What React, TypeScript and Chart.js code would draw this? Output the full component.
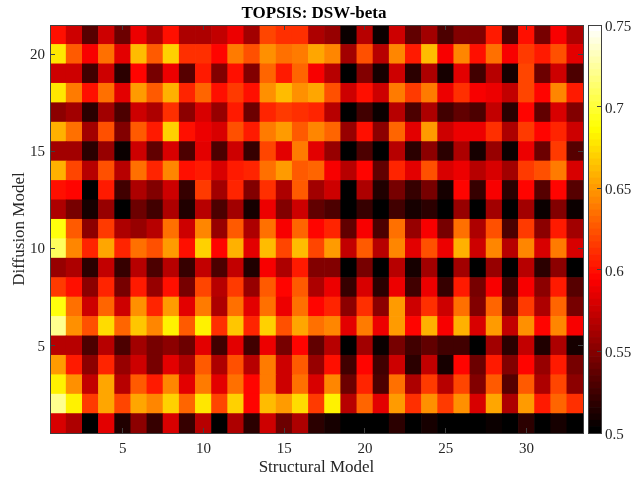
import React, { useEffect, useRef } from "react";
import { Chart, registerables } from "chart.js";

Chart.register(...registerables);

const row21 = [.600,.575,.533,.577,.540,.587,.566,.600,.566,.566,.574,.588,.559,.620,.612,.610,.566,.558,.507,.570,.507,.575,.537,.560,.530,.548,.548,.605,.530,.598,.545,.592,.566];
const row20 = [.677,.627,.590,.635,.583,.664,.625,.668,.612,.612,.594,.638,.622,.647,.633,.640,.656,.642,.560,.622,.570,.644,.605,.664,.590,.642,.600,.636,.590,.616,.605,.622,.583];
const row19 = [.575,.575,.526,.575,.518,.594,.546,.588,.533,.603,.548,.601,.548,.631,.605,.629,.592,.570,.502,.548,.509,.577,.518,.566,.509,.583,.526,.570,.509,.620,.540,.575,.531];
const row18 = [.677,.640,.601,.636,.583,.649,.625,.658,.607,.631,.601,.616,.600,.647,.664,.645,.655,.623,.575,.598,.575,.638,.616,.640,.586,.612,.592,.586,.572,.620,.594,.642,.605];
const row17 = [.552,.559,.518,.559,.530,.575,.563,.610,.552,.581,.555,.603,.540,.607,.614,.610,.607,.570,.502,.526,.504,.570,.531,.563,.524,.539,.530,.574,.516,.594,.537,.581,.548];
const row16 = [.658,.636,.561,.622,.550,.625,.605,.668,.598,.586,.579,.623,.605,.640,.651,.627,.642,.629,.555,.600,.552,.631,.583,.649,.575,.586,.586,.610,.563,.616,.594,.608,.577];
const row15 = [.559,.559,.518,.555,.507,.575,.537,.579,.528,.585,.530,.575,.522,.618,.585,.638,.585,.555,.501,.530,.501,.568,.518,.552,.518,.564,.509,.555,.506,.586,.540,.616,.533];
const row14 = [.658,.620,.570,.623,.570,.633,.607,.642,.598,.603,.579,.603,.609,.635,.649,.625,.631,.590,.568,.594,.537,.608,.583,.622,.579,.588,.570,.579,.559,.616,.622,.640,.579];
const row13 = [.601,.594,.501,.605,.526,.566,.548,.575,.522,.616,.561,.607,.548,.612,.564,.627,.559,.577,.501,.563,.515,.546,.520,.545,.509,.594,.522,.592,.518,.594,.533,.594,.533];
const row12 = [.563,.546,.509,.555,.501,.540,.524,.563,.515,.570,.528,.561,.511,.586,.548,.577,.537,.530,.501,.522,.501,.526,.509,.518,.503,.555,.501,.559,.501,.559,.506,.548,.504];
const row11 = [.688,.625,.552,.614,.563,.555,.570,.635,.575,.642,.555,.627,.563,.636,.590,.631,.594,.608,.539,.590,.531,.633,.555,.590,.546,.633,.563,.622,.530,.616,.552,.605,.559];
const row10 = [.710,.644,.607,.656,.608,.635,.623,.649,.601,.668,.594,.658,.583,.662,.620,.664,.618,.649,.572,.627,.570,.644,.583,.622,.586,.658,.575,.642,.570,.644,.579,.640,.579];
const row9 = [.555,.563,.518,.572,.520,.570,.530,.570,.522,.574,.530,.572,.515,.592,.563,.605,.548,.548,.501,.546,.501,.570,.511,.559,.501,.559,.501,.555,.501,.570,.518,.552,.502];
const row8 = [.616,.600,.552,.608,.545,.605,.555,.600,.546,.618,.568,.614,.555,.625,.594,.627,.566,.586,.522,.579,.516,.586,.526,.588,.522,.605,.546,.590,.526,.590,.552,.605,.533];
const row7 = [.688,.635,.575,.631,.577,.645,.607,.651,.583,.640,.564,.636,.585,.633,.586,.635,.594,.608,.552,.612,.554,.652,.577,.610,.575,.635,.548,.631,.542,.616,.566,.629,.545];
const row6 = [.720,.647,.623,.674,.631,.666,.644,.683,.627,.683,.612,.666,.608,.671,.622,.655,.633,.642,.585,.640,.586,.652,.594,.658,.592,.660,.581,.651,.574,.647,.594,.644,.590];
const row5 = [.568,.568,.528,.568,.530,.561,.545,.554,.542,.583,.526,.583,.526,.588,.546,.594,.537,.570,.501,.561,.505,.546,.526,.537,.526,.526,.501,.561,.518,.574,.515,.566,.509];
const row4 = [.651,.605,.552,.607,.555,.575,.546,.583,.566,.625,.566,.622,.570,.638,.577,.625,.555,.601,.524,.594,.526,.575,.518,.574,.511,.594,.540,.605,.548,.594,.555,.605,.545];
const row3 = [.683,.647,.574,.656,.568,.627,.605,.642,.583,.640,.583,.635,.594,.638,.577,.635,.579,.642,.540,.608,.531,.636,.563,.616,.568,.620,.548,.625,.533,.625,.566,.620,.554];
const row2 = [.720,.680,.616,.656,.618,.655,.642,.671,.631,.677,.620,.669,.594,.662,.651,.675,.616,.680,.570,.631,.583,.651,.612,.647,.614,.647,.579,.655,.566,.652,.605,.631,.612];
const row1 = [.579,.563,.501,.583,.513,.552,.522,.579,.522,.570,.501,.564,.518,.577,.542,.566,.518,.511,.501,.501,.501,.518,.501,.511,.501,.501,.501,.504,.501,.518,.501,.511,.501];

const rows = [row1,row2,row3,row4,row5,row6,row7,row8,row9,row10,row11,row12,row13,row14,row15,row16,row17,row18,row19,row20,row21];

const xTicks = [5, 10, 15, 20, 25, 30];
const yTicks = [5, 10, 15, 20];
const barTicks = [0.5, 0.55, 0.6, 0.65, 0.7, 0.75];

const title = "TOPSIS: DSW-beta";
const xLabel = "Structural Model";
const yLabel = "Diffusion Model";

const V_MIN = 0.5;
const V_MAX = 0.75;
const LEVELS = 64;
const FONT = "'Liberation Serif', 'Times New Roman', serif";
const TEXT = "#262626";
const AXIS = "#404040";

function hot(i: number) {
  const t = i / (LEVELS - 1);
  const c = (x: number) => Math.round(255 * Math.max(0, Math.min(1, x)));
  return `rgb(${c(t / 0.375)},${c((t - 0.375) / 0.375)},${c((t - 0.75) / 0.25)})`;
}
function colorOf(v: number) {
  const i = Math.floor(((v - V_MIN) / (V_MAX - V_MIN)) * LEVELS);
  return hot(Math.max(0, Math.min(LEVELS - 1, i)));
}

const setTicks = (vals: number[]) => (s: any) => {
  s.ticks = vals.map((value) => ({ value }));
};
const fit = (prop: "width" | "height", n: number) => (s: any) => {
  s[prop] = n;
};
const grid = (len: number) => ({
  drawOnChartArea: false,
  drawTicks: true,
  tickLength: -len,
  tickColor: AXIS,
  lineWidth: 1,
  offset: false,
  z: 2,
});
const border = { display: true, color: AXIS, width: 1, z: 3 };

export default function App() {
  const mainRef = useRef<HTMLCanvasElement>(null);
  const barRef = useRef<HTMLCanvasElement>(null);

  useEffect(() => {
    const datasets = rows.map((row, r) => ({
      xAxisID: "x",
      yAxisID: "y",
      data: row.map((v, c) => ({ x: c + 1, y: [r + 0.5, r + 1.5] })),
      backgroundColor: row.map(colorOf),
      borderWidth: 0,
      barPercentage: 1,
      categoryPercentage: 1,
      grouped: false,
    }));

    const main = new Chart(mainRef.current!, {
      type: "bar",
      data: { datasets: datasets as any },
      options: {
        animation: false,
        responsive: false,
        layout: { padding: { left: 0, right: 5, top: 0, bottom: 0 } },
        plugins: {
          legend: { display: false },
          tooltip: { enabled: false },
          title: {
            display: true,
            text: title,
            color: "#000",
            font: { family: FONT, size: 17, weight: "bold", lineHeight: 1.2 },
            padding: { top: 3, bottom: 1.6 },
          },
        },
        scales: {
          x: {
            type: "linear",
            position: "bottom",
            offset: false,
            min: 0.5,
            max: 33.5,
            afterBuildTicks: setTicks(xTicks),
            afterFit: fit("height", 44),
            ticks: { color: TEXT, font: { family: FONT, size: 15 }, padding: 12, maxRotation: 0, autoSkip: false, callback: (v: any) => String(v) },
            grid: grid(5),
            border,
            title: { display: true, text: xLabel, color: TEXT, font: { family: FONT, size: 17 }, padding: { top: 4, bottom: -1 } },
          },
          xTop: {
            type: "linear",
            position: "top",
            offset: false,
            min: 0.5,
            max: 33.5,
            afterBuildTicks: setTicks(xTicks),
            afterFit: fit("height", 0),
            ticks: { display: false },
            grid: grid(5),
            border,
          },
          y: {
            type: "linear",
            position: "left",
            offset: false,
            min: 0.5,
            max: 21.5,
            afterBuildTicks: setTicks(yTicks),
            afterFit: fit("width", 50),
            ticks: { color: TEXT, font: { family: FONT, size: 15 }, padding: 10, labelOffset: 1, autoSkip: false, callback: (v: any) => String(v) },
            grid: grid(5),
            border,
            title: { display: true, text: yLabel, color: TEXT, font: { family: FONT, size: 17 }, padding: { top: 9, bottom: 0 } },
          },
          yRight: {
            type: "linear",
            position: "right",
            offset: false,
            min: 0.5,
            max: 21.5,
            afterBuildTicks: setTicks(yTicks),
            afterFit: fit("width", 45),
            ticks: { display: false },
            grid: grid(5),
            border,
          },
        },
      } as any,
    });

    const levels = Array.from({ length: LEVELS }, (_, i) => i);
    const step = (V_MAX - V_MIN) / LEVELS;
    const cbar = new Chart(barRef.current!, {
      type: "bar",
      data: {
        labels: [""],
        datasets: levels.map((i) => ({
          xAxisID: "x",
          yAxisID: "y",
          data: [[V_MIN + i * step, V_MIN + (i + 1) * step]],
          backgroundColor: hot(i),
          borderWidth: 0,
          barPercentage: 1,
          categoryPercentage: 1,
          grouped: false,
        })) as any,
      },
      options: {
        animation: false,
        responsive: false,
        layout: { padding: { left: 588, right: 0, top: 25, bottom: 44 } },
        plugins: { legend: { display: false }, tooltip: { enabled: false } },
        scales: {
          x: {
            position: "bottom",
            afterFit: fit("height", 0),
            ticks: { display: false },
            grid: { display: false },
            border,
          },
          xTop: {
            type: "linear",
            position: "top",
            afterFit: fit("height", 0),
            ticks: { display: false },
            grid: { display: false },
            border,
          },
          yLeft: {
            type: "linear",
            position: "left",
            afterFit: fit("width", 0),
            ticks: { display: false },
            grid: { display: false },
            border,
          },
          y: {
            type: "linear",
            position: "right",
            min: V_MIN,
            max: V_MAX,
            afterBuildTicks: setTicks(barTicks),
            afterFit: fit("width", 32),
            ticks: { color: TEXT, font: { family: FONT, size: 15 }, padding: 8, labelOffset: 2, autoSkip: false, callback: (v: any) => String(v) },
            grid: grid(4),
            border,
          },
        },
      } as any,
    });

    return () => {
      main.destroy();
      cbar.destroy();
    };
  }, []);

  const canvasStyle: React.CSSProperties = { position: "absolute", left: 0, top: 0, width: 633, height: 477 };
  return (
    <div style={{ position: "absolute", left: 0, top: 0, width: 633, height: 477, background: "#fff", overflow: "hidden" }}>
      <canvas ref={mainRef} width={633} height={477} style={canvasStyle} />
      <canvas ref={barRef} width={633} height={477} style={canvasStyle} />
    </div>
  );
}
